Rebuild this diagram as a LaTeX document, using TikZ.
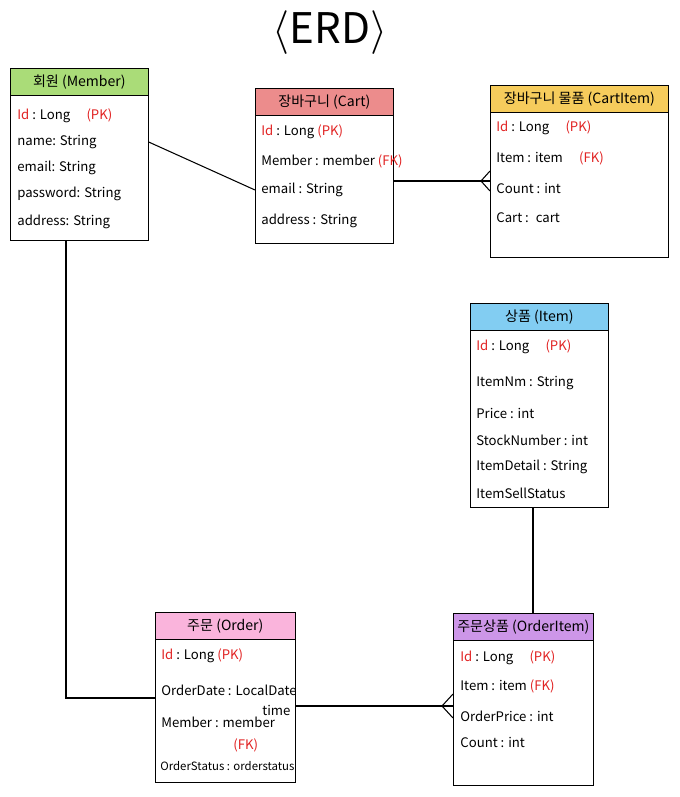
\documentclass[tikz,border=0pt]{standalone}
\usepackage{fontspec}
\setmainfont{Noto Sans CJK KR}
\definecolor{pkred}{RGB}{225,35,35}
\definecolor{memgreen}{RGB}{170,220,120}
\definecolor{cartred}{RGB}{236,140,140}
\definecolor{ciyellow}{RGB}{246,204,92}
\definecolor{itemblue}{RGB}{130,205,242}
\definecolor{orderpink}{RGB}{250,180,220}
\definecolor{oipurple}{RGB}{205,150,232}

\begin{document}
\begin{tikzpicture}[x=0.02cm, y=-0.02cm, every node/.style={font=\fontsize{7.5}{9}\selectfont}]
\tikzstyle{entity} = [rectangle, draw=black, anchor=north west, inner sep=0pt]
\tikzstyle{header} = [rectangle, draw=black, anchor=north west, inner sep=0pt,
minimum height=0.54cm, text centered, font=\fontsize{8}{9}\selectfont]
\tikzstyle{field} = [anchor=west, inner sep=0pt]
\tikzstyle{line} = [semithick]

\useasboundingbox (0,0) rectangle (679,797);

% Title
\node (title) at (330,33) {\fontsize{24}{28}\selectfont $\langle$ERD$\rangle$};

% Member
\node (member) [entity, minimum width=2.76cm, minimum height=3.44cm] at (10,68) {};
\node (member-h) [header, fill=memgreen, minimum width=2.76cm] at (10,68) {회원 (Member)};
\node (mem-id) [field] at (17,116) {\textcolor{pkred}{Id} : Long \quad\textcolor{pkred}{(PK)}};
\node (mem-name) [field] at (17,142) {name: String};
\node (mem-email) [field] at (17,168) {email: String};
\node (mem-pw) [field] at (17,194) {password: String};
\node (mem-addr) [field] at (17,222) {address: String};

% Cart
\node (cart) [entity, minimum width=2.76cm, minimum height=3.10cm] at (255,88) {};
\node (cart-h) [header, fill=cartred, minimum width=2.76cm] at (255,88) {장바구니 (Cart)};
\node (cart-id) [field] at (261,132) {\textcolor{pkred}{Id} : Long \textcolor{pkred}{(PK)}};
\node (cart-mem) [field] at (261,161) {Member : member \textcolor{pkred}{(FK)}};
\node (cart-email) [field] at (261,190) {email : String};
\node (cart-addr) [field] at (261,221) {address : String};

% CartItem
\node (ci) [entity, minimum width=3.56cm, minimum height=3.44cm] at (490,85) {};
\node (ci-h) [header, fill=ciyellow, minimum width=3.56cm] at (490,85) {장바구니 물품 (CartItem)};
\node (ci-id) [field] at (496,128) {\textcolor{pkred}{Id} : Long \quad\textcolor{pkred}{(PK)}};
\node (ci-item) [field] at (496,158) {Item : item \quad\textcolor{pkred}{(FK)}};
\node (ci-count) [field] at (496,188) {Count : int};
\node (ci-cart) [field] at (496,218) {Cart : \ cart};

% Item
\node (item) [entity, minimum width=2.76cm, minimum height=4.08cm] at (470,303) {};
\node (item-h) [header, fill=itemblue, minimum width=2.76cm] at (470,303) {상품 (Item)};
\node (item-id) [field] at (476,347) {\textcolor{pkred}{Id} : Long \quad\textcolor{pkred}{(PK)}};
\node (item-nm) [field] at (476,383) {ItemNm : String};
\node (item-price) [field] at (476,413) {Price : int};
\node (item-stock) [field] at (476,440) {StockNumber : int};
\node (item-detail) [field] at (476,467) {ItemDetail : String};
\node (item-status) [field] at (476,493) {ItemSellStatus};

% Order
\node (order) [entity, minimum width=2.80cm, minimum height=3.40cm] at (155,612) {};
\node (order-h) [header, fill=orderpink, minimum width=2.80cm] at (155,612) {주문 (Order)};
\node (ord-id) [field] at (161,656) {\textcolor{pkred}{Id} : Long \textcolor{pkred}{(PK)}};
\node (ord-date) [field] at (161,690) {OrderDate : LocalDate};
\node (ord-time) [field] at (262,710) {time};
\node (ord-mem) [field] at (161,722) {Member : member};
\node (ord-fk) [field] at (233,745) {\textcolor{pkred}{(FK)}};
\node (ord-status) [field, font=\fontsize{6.5}{8}\selectfont] at (160,766) {OrderStatus : orderstatus};

% OrderItem
\node (oi) [entity, minimum width=2.80cm, minimum height=3.44cm] at (453,613) {};
\node (oi-h) [header, fill=oipurple, minimum width=2.80cm] at (453,613) {주문상품 (OrderItem)};
\node (oi-id) [field] at (460,658) {\textcolor{pkred}{Id} : Long \quad\textcolor{pkred}{(PK)}};
\node (oi-item) [field] at (460,686) {Item : item \textcolor{pkred}{(FK)}};
\node (oi-price) [field] at (460,716) {OrderPrice : int};
\node (oi-count) [field] at (460,742) {Count : int};

% Connectors
\coordinate (ci-foot) at (481,181);
\coordinate (mo-bend) at (66,698);
\coordinate (oi-foot) at (442,706);
\coordinate (io-x) at (533,560);

\draw [line] (member.east |- mem-name) -- (cart.west |- cart-email);
\draw [line] (cart.east |- ci-foot) -- (ci.west |- ci-foot);
\draw [line] (ci-foot) -- ++(9,-10) (ci-foot) -- ++(9,10);
\draw [line] (member.south -| mo-bend) -- (mo-bend) -- (order.west |- mo-bend);
\draw [line] (order.east |- oi-foot) -- (oi.west |- oi-foot);
\draw [line] (oi-foot) -- ++(11,-12) (oi-foot) -- ++(11,12);
\draw [line] (item.south -| io-x) -- (oi.north -| io-x);
\end{tikzpicture}
\end{document}
